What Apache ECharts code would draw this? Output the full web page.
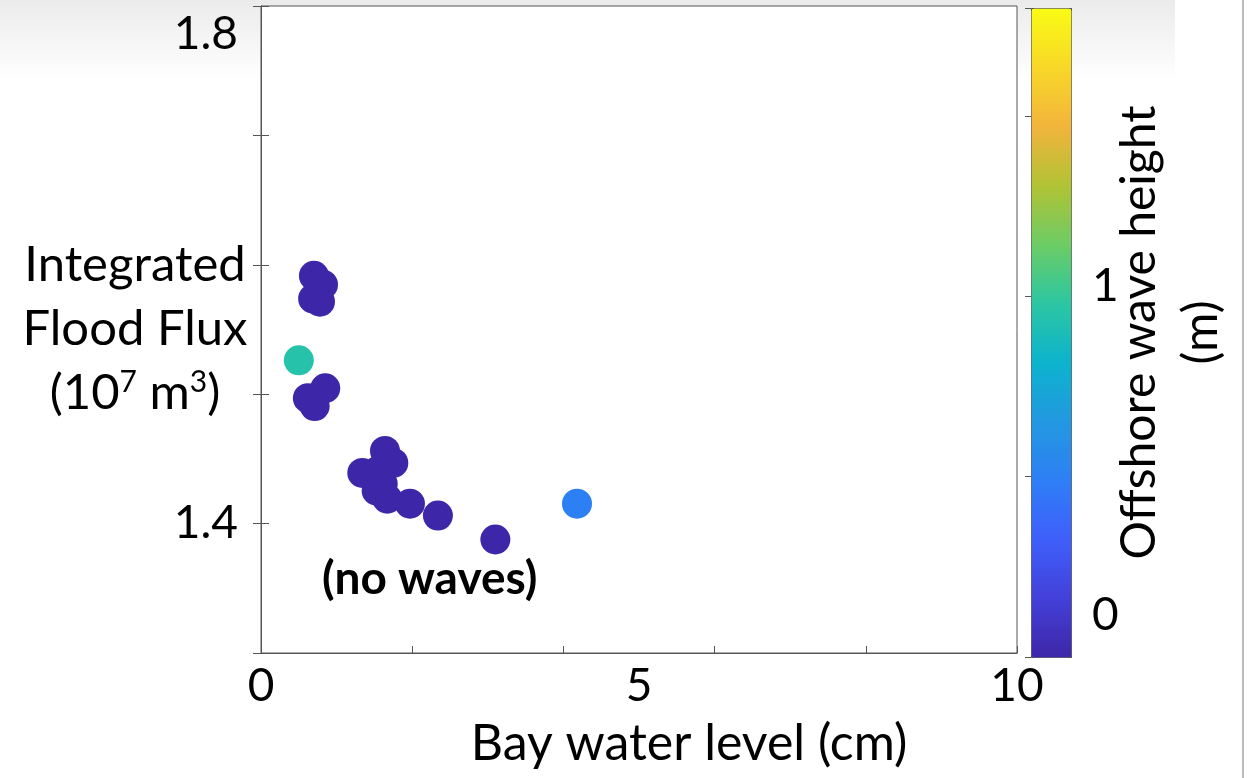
<!DOCTYPE html>
<html>
<head>
<meta charset="utf-8">
<script src="https://cdn.jsdelivr.net/npm/echarts@6/dist/echarts.min.js"></script>
<style>
  html, body { margin: 0; padding: 0; background: #fff; }
  #chart { width: 1253px; height: 778px; }
</style>
</head>
<body>
<div id="chart"></div>
<script>
// bay water level (cm), integrated flood flux (1e7 m3), offshore wave height (m)
const bayLevel = [0.70, 0.82, 0.69, 0.78, 0.50, 0.85, 0.62, 0.71, 1.64, 1.75, 1.34, 1.55, 1.61, 1.53, 1.67, 1.97, 2.34, 3.10, 4.18]
const floodFlux = [1.5915, 1.5846, 1.5738, 1.5715, 1.5262, 1.5046, 1.4969, 1.4908, 1.4562, 1.4469, 1.4392, 1.4408, 1.4308, 1.4254, 1.4192, 1.4154, 1.4062, 1.3877, 1.4154]
const waveHeight = [0, 0, 0, 0, 0.95, 0, 0, 0, 0, 0, 0, 0, 0, 0, 0, 0, 0, 0, 0.5]

const yLabels = [1.4, 1.8]
const xLabels = [0, 5, 10]
const barLabels = [0, 1]

// parula-like colormap
const parula = ['#3e26a8', '#4340d8', '#3f5ffb', '#2e7ff5', '#2398e0', '#0cb3cd',
  '#2cc6a2', '#6ccc65', '#b2c235', '#f2b43c', '#f8d828', '#f9fb14']

const font = 'Lato, "Open Sans", sans-serif'
const axisColor = '#555'

const points = bayLevel.map((x, i) => [x, floodFlux[i], waveHeight[i]])

const chart = echarts.init(document.getElementById('chart'))

const option = {
  backgroundColor: '#fff',
  animation: false,
  textStyle: { fontFamily: font, color: '#000' },
  graphic: [
    {
      type: 'rect', z: -10, silent: true,
      shape: { x: 0, y: 0, width: 1175, height: 80 },
      style: {
        fill: new echarts.graphic.LinearGradient(0, 0, 0, 1, [
          { offset: 0, color: '#ebebeb' },
          { offset: 1, color: '#ffffff' }
        ])
      }
    },
    {
      type: 'line', z: -10, silent: true,
      shape: { x1: 1243, y1: 0, x2: 1243, y2: 778 },
      style: { stroke: '#bbb', lineWidth: 2 }
    },
    {
      type: 'text', z: 10,
      left: 322, top: 556,
      style: { text: '(no waves)', font: 'bold 46px ' + font, fill: '#000' }
    }
  ],
  grid: [
    { left: 261, right: 236, top: 6, bottom: 125, show: true, borderColor: axisColor, borderWidth: 1, backgroundColor: '#fff', outerBoundsMode: 'none', containLabel: false },
    { left: 1031, width: 40, top: 8, height: 649, outerBoundsMode: 'none', containLabel: false }
  ],
  xAxis: [
    {
      gridIndex: 0, type: 'value', min: 0, max: 10, interval: 2, position: 'bottom',
      axisLine: { lineStyle: { color: axisColor } },
      axisTick: { inside: true, length: 7, lineStyle: { color: axisColor } },
      axisLabel: { show: false },
      splitLine: { show: false }
    },
    {
      gridIndex: 0, type: 'value', min: 0, max: 10, interval: 5, position: 'bottom',
      axisLine: { show: false },
      axisTick: { show: false },
      splitLine: { show: false },
      axisLabel: {
        margin: 10, fontSize: 46, color: '#000', fontFamily: font,
        formatter: v => xLabels.includes(v) ? String(v) : ''
      },
      name: 'Bay water level (cm)',
      nameLocation: 'middle', nameGap: 66, nameMoveOverlap: false,
      nameTextStyle: { fontSize: 50, color: '#000', fontFamily: font, padding: [0, 0, 0, 100] }
    },
    { gridIndex: 1, type: 'value', min: 0, max: 1, show: false }
  ],
  yAxis: [
    {
      gridIndex: 0, type: 'value', min: 1.3, max: 1.8, interval: 0.1, position: 'left',
      axisLine: { show: true, lineStyle: { color: axisColor } },
      axisTick: { inside: true, length: 8, lineStyle: { color: axisColor } },
      splitLine: { show: false },
      axisLabel: {
        margin: 23, fontSize: 46, color: '#000', fontFamily: font,
        formatter: v => {
          const r = Math.round(v * 10) / 10
          if (!yLabels.includes(r)) return ''
          return r === 1.8 ? '{top|1.8}' : r.toFixed(1)
        },
        rich: { top: { fontSize: 46, fontFamily: font, color: '#000', padding: [56, 0, 0, 0] } }
      },
      name: 'Integrated\nFlood Flux\n(10{sup|7} m{sup|3})',
      nameLocation: 'middle', nameRotate: 0, nameGap: 126, nameMoveOverlap: false,
      nameTextStyle: {
        fontSize: 49, lineHeight: 64, color: '#000', fontFamily: font,
        align: 'center', verticalAlign: 'middle',
        rich: { sup: { fontSize: 30, lineHeight: 64, verticalAlign: 'top', padding: [6, 0, 0, 0], color: '#000', fontFamily: font } }
      }
    },
    {
      gridIndex: 0, type: 'value', min: 1.3, max: 1.8, interval: 0.1, position: 'right',
      axisLine: { show: true, lineStyle: { color: axisColor } },
      axisTick: { inside: true, length: 8, lineStyle: { color: axisColor } },
      axisLabel: { show: false },
      splitLine: { show: false }
    },
    {
      gridIndex: 1, type: 'value', min: 0, max: 1.8, interval: 0.5, position: 'right',
      axisLine: { show: false },
      axisTick: { inside: true, length: 6, lineStyle: { color: axisColor } },
      splitLine: { show: false },
      axisLabel: {
        margin: 21, fontSize: 46, color: '#000', fontFamily: font,
        formatter: v => {
          if (v === 0) return '{lo|0}'
          if (v === 1) return '{one|1}'
          return ''
        },
        rich: {
          lo: { fontSize: 46, fontFamily: font, color: '#000', padding: [0, 0, 84, 0] },
          one: { fontSize: 46, fontFamily: font, color: '#000', padding: [0, 0, 20, 0] }
        }
      },
      name: 'Offshore wave height\n(m)',
      nameLocation: 'middle', nameRotate: 90, nameGap: 100, nameMoveOverlap: false,
      nameTextStyle: {
        fontSize: 48, lineHeight: 62, color: '#000', fontFamily: font,
        align: 'center', verticalAlign: 'middle'
      }
    }
  ],
  visualMap: {
    type: 'continuous', min: 0, max: 1.8, dimension: 2, seriesIndex: 0,
    calculable: false, text: null,
    left: 1031, top: 8, itemWidth: 40, itemHeight: 649, padding: 0,
    borderColor: '#444', borderWidth: 1,
    inRange: { color: parula }
  },
  series: [{
    type: 'scatter',
    xAxisIndex: 0, yAxisIndex: 0,
    symbolSize: 30,
    data: points,
    itemStyle: { opacity: 1 }
  }]
}

chart.setOption(option)
</script>
</body>
</html>
